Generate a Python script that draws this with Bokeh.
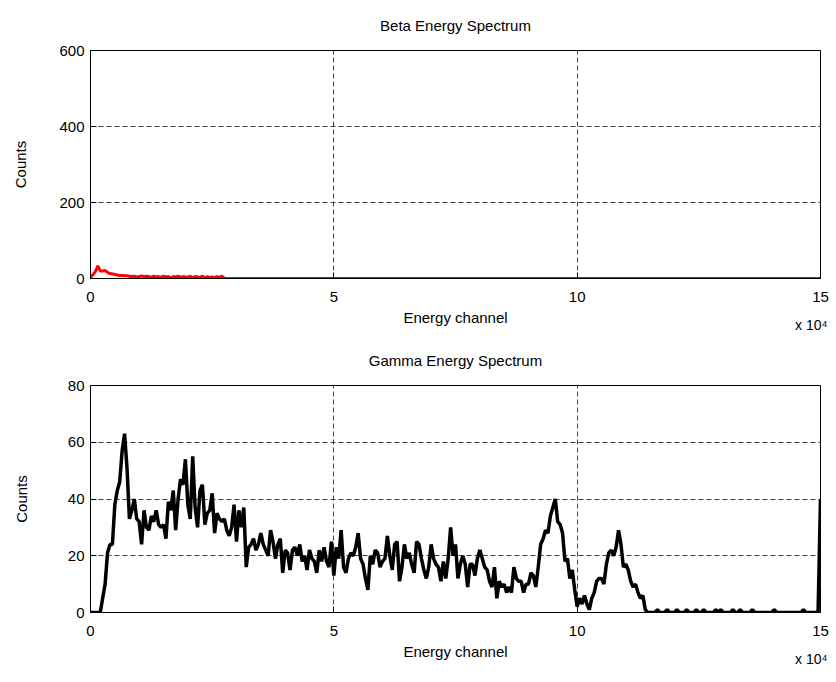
from bokeh.plotting import figure
from bokeh.layouts import column
from bokeh.models import Range1d, FixedTicker, Title
from bokeh.embed import file_html
from bokeh.resources import INLINE

# Channel grid: one sample every 500 channels, 0 .. 150000
channel_step = 500
x_tick_values = [0, 50000, 100000, 150000]
x_tick_labels = ["0", "5", "10", "15"]

beta_y_ticks = [0, 200, 400, 600]
gamma_y_ticks = [0, 20, 40, 60, 80]

# Beta spectrum counts (rows of 20 samples = 10000 channels each)
beta_counts = (
    [3, 10, 18, 33, 20, 20, 21, 16, 13, 12, 11, 9, 8, 8, 7, 7, 6, 5, 6, 4]
    + [5, 7, 4, 6, 5, 3, 6, 4, 5, 3, 6, 4, 5, 2, 5, 4, 6, 3, 5, 4]
    + [3, 6, 2, 5, 4, 3, 6, 2, 5, 3, 4, 2, 5, 3, 6, 1, 0, 0, 0, 0]
    + [0, 0, 0, 0, 0, 0, 0, 0, 0, 0, 0, 0, 0, 0, 0, 0, 0, 0, 0, 0]
    + [0, 0, 0, 0, 0, 0, 0, 0, 0, 0, 0, 0, 0, 0, 0, 0, 0, 0, 0, 0]
    + [0, 0, 0, 0, 0, 0, 0, 0, 0, 0, 0, 0, 0, 0, 0, 0, 0, 0, 0, 0]
    + [0, 0, 0, 0, 0, 0, 0, 0, 0, 0, 0, 0, 0, 0, 0, 0, 0, 0, 0, 0]
    + [0, 0, 0, 0, 0, 0, 0, 0, 0, 0, 0, 0, 0, 0, 0, 0, 0, 0, 0, 0]
    + [0, 0, 0, 0, 0, 0, 0, 0, 0, 0, 0, 0, 0, 0, 0, 0, 0, 0, 0, 0]
    + [0, 0, 0, 0, 0, 0, 0, 0, 0, 0, 0, 0, 0, 0, 0, 0, 0, 0, 0, 0]
    + [0, 0, 0, 0, 0, 0, 0, 0, 0, 0, 0, 0, 0, 0, 0, 0, 0, 0, 0, 0]
    + [0, 0, 0, 0, 0, 0, 0, 0, 0, 0, 0, 0, 0, 0, 0, 0, 0, 0, 0, 0]
    + [0, 0, 0, 0, 0, 0, 0, 0, 0, 0, 0, 0, 0, 0, 0, 0, 0, 0, 0, 0]
    + [0, 0, 0, 0, 0, 0, 0, 0, 0, 0, 0, 0, 0, 0, 0, 0, 0, 0, 0, 0]
    + [0, 0, 0, 0, 0, 0, 0, 0, 0, 0, 0, 0, 0, 0, 0, 0, 0, 0, 0, 0]
    + [0]
)

# Gamma spectrum counts (rows of 20 samples = 10000 channels each)
gamma_counts = (
    [0, 0, 0, 0, 0, 5, 10, 21, 24, 24, 38, 43, 46, 57, 63, 51, 33, 36, 40, 33]
    + [32, 24, 36, 30, 29, 34, 32, 36, 31, 30, 31, 26, 39, 36, 43, 29, 40, 47, 45, 54]
    + [38, 33, 55, 37, 30, 43, 45, 31, 35, 36, 42, 28, 35, 33, 32, 33, 29, 27, 30, 38]
    + [25, 36, 30, 37, 16, 23, 24, 26, 22, 24, 28, 24, 22, 20, 29, 25, 19, 24, 26, 14]
    + [22, 21, 15, 22, 23, 20, 24, 18, 20, 15, 22, 19, 18, 14, 22, 18, 23, 18, 16, 25]
    + [13, 23, 19, 29, 16, 14, 19, 21, 20, 23, 28, 19, 17, 12, 8, 20, 17, 22, 21, 16]
    + [18, 19, 27, 20, 15, 24, 25, 11, 16, 24, 19, 21, 17, 14, 25, 24, 19, 15, 12, 16]
    + [24, 19, 17, 16, 11, 18, 12, 19, 30, 20, 24, 12, 17, 20, 17, 9, 17, 17, 13, 19]
    + [22, 19, 16, 15, 11, 9, 16, 5, 11, 9, 10, 7, 9, 7, 16, 12, 11, 11, 7, 10]
    + [10, 14, 13, 9, 16, 24, 26, 29, 28, 34, 37, 40, 32, 31, 28, 18, 19, 12, 15, 8]
    + [2, 5, 3, 6, 3, 1, 5, 7, 11, 12, 12, 10, 17, 21, 22, 20, 23, 29, 24, 16]
    + [17, 15, 11, 9, 10, 7, 5, 6, 1, 0, 0, 0, 0, 1, 0, 0, 0, 1, 0, 0]
    + [0, 1, 0, 0, 0, 1, 0, 0, 0, 1, 0, 0, 1, 0, 0, 0, 0, 1, 0, 1]
    + [0, 0, 0, 0, 1, 0, 0, 1, 0, 0, 0, 0, 1, 0, 0, 0, 0, 0, 0, 0]
    + [0, 1, 0, 0, 0, 0, 0, 0, 0, 0, 0, 0, 0, 1, 0, 0, 0, 0, 0, 0]
    + [40]
)

beta_channels = [i * channel_step for i in range(len(beta_counts))]
gamma_channels = [i * channel_step for i in range(len(gamma_counts))]

FONT = "Liberation Sans"
FS = "15px"


def spectrum_panel(title, y_max, y_ticks, height, top, bottom, ylabel_standoff):
    p = figure(
        width=836, height=height,
        x_range=Range1d(0, 150000), y_range=Range1d(0, y_max),
        output_backend="svg", toolbar_location=None,
        min_border_left=90, min_border_right=16,
        min_border_top=top, min_border_bottom=bottom,
        background_fill_color="white", border_fill_color="white",
    )
    p.title.text = title
    p.title.align = "center"
    p.title.vertical_align = "middle"
    p.title.text_font = FONT
    p.title.text_font_size = FS
    p.title.text_font_style = "normal"
    p.title.text_color = "black"
    p.title.standoff = 31

    p.outline_line_color = "black"
    p.outline_line_alpha = 1.0
    p.outline_line_width = 1

    p.xaxis.ticker = FixedTicker(ticks=x_tick_values)
    p.xaxis.major_label_overrides = dict(zip(x_tick_values, x_tick_labels))
    p.yaxis.ticker = FixedTicker(ticks=y_ticks)
    p.xgrid.ticker = FixedTicker(ticks=x_tick_values)
    p.ygrid.ticker = FixedTicker(ticks=y_ticks)

    for ax in (p.xaxis, p.yaxis):
        ax.axis_line_color = "black"
        ax.major_tick_in = 6
        ax.major_tick_out = 0
        ax.minor_tick_line_color = None
        ax.major_label_text_font = FONT
        ax.major_label_text_font_size = FS
        ax.major_label_text_color = "black"
        ax.axis_label_text_font = FONT
        ax.axis_label_text_font_size = FS
        ax.axis_label_text_font_style = "normal"
        ax.axis_label_text_color = "black"
    p.xaxis.axis_label = "Energy channel"
    p.yaxis.axis_label = "Counts"
    p.xaxis.major_label_standoff = 13
    p.xaxis.axis_label_standoff = 4
    p.yaxis.major_label_standoff = 6
    p.yaxis.axis_label_standoff = ylabel_standoff

    for g in (p.xgrid, p.ygrid):
        g.grid_line_color = "black"
        g.grid_line_alpha = 0.75
        g.grid_line_dash = "5 3"
        g.grid_line_width = 1

    # exponent marker for the channel axis, at the right end of the label row
    p.add_layout(Title(text="x 10\u2074", align="right", offset=-7,
                       vertical_align="top",
                       text_font=FONT, text_font_size="14px",
                       text_font_style="normal", text_color="black",
                       standoff=-24), "below")
    return p


p1 = spectrum_panel("Beta Energy Spectrum", 600, beta_y_ticks, 335, 50, 57, 27)
p1.line(beta_channels, beta_counts, line_color="#ff0000", line_width=3)

p2 = spectrum_panel("Gamma Energy Spectrum", 80, gamma_y_ticks, 347, 50, 70, 35)
p2.line(gamma_channels, gamma_counts, line_color="black", line_width=3.5)

layout = column(p1, p2, spacing=0)
open("out.html", "w").write(file_html(layout, INLINE, title="Energy Spectra"))
